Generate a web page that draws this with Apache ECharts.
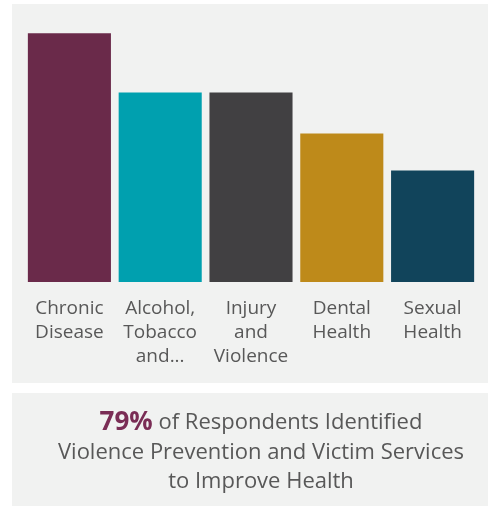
<!DOCTYPE html>
<html>
<head>
<meta charset="utf-8">
<script src="https://cdn.jsdelivr.net/npm/echarts@6/dist/echarts.min.js"></script>
<style>
  html, body { margin: 0; padding: 0; background: #ffffff; }
  #chart { width: 488px; height: 506px; }
</style>
</head>
<body>
<div id="chart"></div>
<script>
// Health priorities chosen by respondents (percent)
const categories = ['Chronic\nDisease', 'Alcohol,\nTobacco\nand...', 'Injury\nand\nViolence', 'Dental\nHealth', 'Sexual\nHealth'];
const values = [67, 51, 51, 40, 30];
const barColors = ['#6a2a4a', '#00a0af', '#414042', '#be8a1a', '#11445b'];
const headlineValue = '79%';
const headlineLines = ['of Respondents Identified', 'Violence Prevention and Victim Services', 'to Improve Health'];

const chart = echarts.init(document.getElementById('chart'));
const font = '"Open Sans", "Noto Sans", sans-serif';

chart.setOption({
  animation: false,
  backgroundColor: '#ffffff',
  graphic: [
    { type: 'rect', z: -10, shape: { x: 12, y: 4, width: 476, height: 379 }, style: { fill: '#f1f2f1' } },
    { type: 'rect', z: -10, shape: { x: 12, y: 393, width: 476, height: 113 }, style: { fill: '#f1f2f1' } },
    {
      type: 'text', z: 10,
      style: {
        x: 261,
        y: 408,
        text: '{b|' + headlineValue + '} ' + headlineLines[0] + '\n' + headlineLines[1] + '\n' + headlineLines[2],
        align: 'center',
        verticalAlign: 'top',
        fontFamily: font,
        fontSize: 22,
        fill: '#585858',
        lineHeight: 29.5,
        rich: {
          b: { fontSize: 26, fontWeight: 'bold', fill: '#7a2d55', fontFamily: font, lineHeight: 29.5 }
        }
      }
    }
  ],
  grid: { left: 24, right: 10, top: 22, bottom: 224, containLabel: false },
  xAxis: {
    type: 'category',
    data: categories,
    axisLine: { show: false },
    axisTick: { show: false },
    axisLabel: { interval: 0, fontSize: 19, lineHeight: 24, color: '#585858', margin: 15, fontFamily: font }
  },
  yAxis: { type: 'value', min: 0, max: 70, show: false, splitLine: { show: false } },
  series: [{
    type: 'bar',
    barCategoryGap: '8.5%',
    data: values.map((v, i) => ({ value: v, itemStyle: { color: barColors[i] } }))
  }]
});
</script>
</body>
</html>
